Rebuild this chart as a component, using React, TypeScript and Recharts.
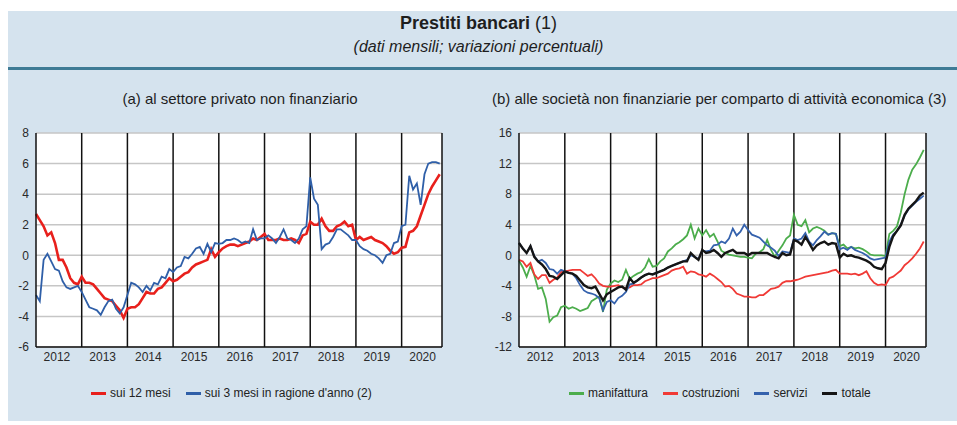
import React from 'react';
import { LineChart, Line, XAxis, YAxis, CartesianGrid, ReferenceLine } from 'recharts';

// Monthly data, Jan 2012 - Nov 2020 (one row per year in the source layout)
const YEARS = ['2012', '2013', '2014', '2015', '2016', '2017', '2018', '2019', '2020'];

// (a) loans to the non-financial private sector
const SUI_12_MESI = [
  2.7, 2.3, 1.9, 1.3, 1.5, 0.8, -0.3, -0.3, -0.8, -1.5, -1.8, -1.9,
  -1.4, -1.8, -1.8, -1.9, -2.2, -2.5, -2.8, -2.9, -3.0, -3.3, -3.6, -4.1,
  -3.5, -3.4, -3.4, -3.2, -2.8, -2.4, -2.5, -2.5, -2.2, -2.1, -1.8, -1.5,
  -1.7, -1.6, -1.4, -1.2, -1.1, -0.8, -0.6, -0.5, -0.4, -0.3, 0.4, -0.1,
  0.2, 0.45, 0.6, 0.7, 0.7, 0.6, 0.7, 0.8, 0.9, 1.1, 1.0, 1.2,
  1.4, 1.0, 1.0, 1.0, 1.1, 1.0, 1.0, 1.1, 1.0, 0.8, 1.3, 1.4,
  2.2, 2.0, 2.0, 2.4, 1.9, 1.6, 1.6, 1.9, 2.0, 2.2, 1.9, 2.0,
  1.0, 1.2, 1.0, 1.1, 1.2, 1.0, 0.9, 0.8, 0.6, 0.3, 0.1, 0.2,
  0.5, 0.55, 1.5, 1.6, 1.9, 2.6, 3.3, 4.0, 4.5, 4.9, 5.3,
];
const SUI_3_MESI = [
  -2.6, -3.0, -0.3, 0.1, -0.4, -0.9, -1.0, -1.7, -2.1, -2.2, -2.1, -2.0,
  -2.4, -2.9, -3.4, -3.5, -3.6, -3.9, -3.4, -3.0, -2.9, -3.5, -3.8, -3.4,
  -2.6, -1.8, -1.9, -2.1, -2.4, -2.0, -2.3, -1.8, -1.9, -1.4, -1.5, -0.9,
  -1.1, -0.8, -0.7, -0.1, -0.2, 0.1, 0.45, 0.55, 0.1, 0.75, 0.2, 0.8,
  0.75, 0.8, 1.0, 1.0, 1.1, 1.0, 0.8, 0.9, 0.8, 1.7, 1.0, 1.1,
  1.1, 1.3, 1.1, 0.8, 1.2, 1.7, 1.1, 1.0, 0.8, 1.1, 1.7, 1.9,
  5.1, 3.7, 3.3, 0.4, 0.7, 0.8, 1.2, 1.7, 1.7, 1.5, 1.3, 1.0,
  1.0, 0.6, 0.4, 0.3, 0.1, 0.0, -0.2, -0.5, 0.0, 0.1, 0.8, 0.9,
  1.9, 2.0, 5.2, 4.3, 4.7, 3.3, 5.3, 6.0, 6.1, 6.1, 6.0,
];

// (b) loans to non-financial firms by sector
const MANIFATTURA = [
  -0.7, -1.6, -2.8, -1.4, -2.6, -4.4, -4.2, -5.7, -8.7, -8.1, -7.9, -6.8,
  -6.6, -7.0, -6.8, -7.0, -7.3, -7.1, -6.9, -6.0, -5.7, -5.4, -7.4, -4.5,
  -3.7, -3.3, -3.5, -3.2, -1.9, -3.1, -2.7, -2.4, -2.2, -1.6, -0.5, -1.5,
  -1.4, -0.8, -0.4, 0.5, 0.9, 1.4, 1.7, 2.1, 2.6, 4.0, 2.2, 3.5,
  2.6, 3.3, 2.4, 2.8, 1.8, 0.6, 0.3, 0.1, 0.0, -0.1, -0.2, -0.2,
  -0.3, -0.4, 0.2, 0.4, 0.8, 2.0, 0.7, -0.2, 0.6, 1.3, 2.2, 2.6,
  5.3, 4.0, 3.8, 4.6, 3.0, 3.5, 3.7, 3.5, 3.2, 2.7, 2.9, 2.8,
  1.2, 1.4, 0.9, 1.1, 0.9, 1.0, 0.8, 0.5, 0.1, 0.0, 0.0, 0.0,
  -0.1, 2.8, 3.2, 3.8, 5.6, 8.0, 9.9, 11.2, 11.9, 12.8, 13.8,
];
const COSTRUZIONI = [
  -0.6, -0.8, -1.5, -1.0, -2.5, -3.1, -2.6, -2.6, -3.6, -3.2, -2.9, -2.2,
  -2.1, -2.0, -1.9, -1.9, -1.9, -2.3, -2.7, -2.5, -3.0, -3.7, -4.0, -4.1,
  -4.1, -4.0, -3.9, -4.2, -4.3, -4.2, -3.9, -3.9, -3.8, -3.4, -3.2, -3.0,
  -3.0, -2.8, -2.6, -2.4, -2.0, -1.8, -1.7, -1.5, -2.4, -2.1, -2.2, -2.5,
  -2.6, -2.8, -2.4, -2.7, -3.1, -3.5, -4.1, -4.0, -4.4, -5.0, -5.2, -5.4,
  -5.4, -5.5, -5.5, -5.2, -5.2, -4.8, -4.4, -4.3, -4.1, -3.6, -3.4, -3.4,
  -3.3, -3.2, -3.0, -2.8, -2.7, -2.6, -2.5, -2.4, -2.3, -2.2, -2.0, -1.9,
  -2.4, -2.4, -2.4, -2.5, -2.4, -2.6, -2.4, -2.1, -3.0, -3.6, -3.9, -3.8,
  -3.9, -3.0, -2.8, -2.4, -2.0, -1.3, -0.9, -0.4, 0.2, 0.9, 1.8,
];
const SERVIZI = [
  1.6, 0.9, 0.3, 1.2, -0.1, -0.8, -0.6, -1.0, -1.8, -1.9, -2.4, -1.9,
  -2.1, -2.3, -2.4, -3.0, -3.9, -4.6, -4.9, -5.0, -5.2, -5.6, -7.2, -6.1,
  -5.9, -6.3, -5.6, -5.3, -4.8, -3.8, -3.7, -3.3, -2.9, -2.6, -2.4, -2.5,
  -2.3, -2.1, -1.9, -1.6, -1.4, -1.2, -1.0, -0.8, -0.6, 0.0, -0.2, -0.5,
  0.6, 0.5, 0.6, 1.3, 1.4, 1.8, 1.6, 2.2, 3.5, 2.6, 3.1, 4.0,
  3.3, 2.7, 2.5, 2.3, 1.8, 1.3, 1.0, 0.6, -0.1, 0.5, 0.4, 0.3,
  2.2, 2.0, 2.2, 2.9, 1.8, 1.3, 2.0, 2.5, 3.1, 2.7, 2.9, 2.8,
  0.8, 1.0, 0.7, 1.1, 0.7, 0.5, 0.3, 0.0, -0.4, -0.6, -0.5, -0.4,
  -0.3, 1.8, 2.7, 3.2, 4.0, 5.2, 6.0, 6.5, 7.0, 7.4, 7.8,
];
const TOTALE = [
  1.6, 0.9, 0.3, 1.2, -0.2, -0.8, -1.2, -1.8, -2.7, -2.8, -3.1, -2.6,
  -2.1, -2.3, -2.4, -2.7, -3.3, -3.9, -4.2, -4.3, -4.1, -5.0, -5.9, -5.1,
  -4.8, -4.5, -4.2, -4.1, -4.5, -3.0, -3.6, -3.3, -2.9, -2.6, -2.4, -2.5,
  -2.3, -2.1, -1.9, -1.6, -1.4, -1.2, -1.0, -0.8, -0.8, 0.3, -0.2, -0.6,
  0.7, 0.3, 0.4, 0.7, 0.3, -0.2, 0.3, 0.5, 0.7, 0.3, 0.3, 0.3,
  0.0, 0.3, 0.3, 0.3, 0.3, 0.3, 0.0, -0.2, -0.4, 0.3, 0.0, 0.1,
  2.0, 1.8, 1.4, 2.4, 1.6, 0.7, 1.3, 1.6, 1.8, 1.4, 1.6, 1.5,
  -0.3, 0.2, -0.1, 0.0, -0.2, -0.3, -0.5, -0.7, -1.0, -1.5, -1.7, -1.8,
  -1.0, 1.1, 2.5, 3.2, 3.9, 5.3, 6.1, 6.6, 7.1, 7.8, 8.2,
];

const TICKS_A = [-6, -4, -2, 0, 2, 4, 6, 8];
const TICKS_B = [-12, -8, -4, 0, 4, 8, 12, 16];

const FONT = "'Liberation Sans Narrow', 'Arial Narrow', 'Liberation Sans', Arial, sans-serif";
const X_DOMAIN: [number, number] = [0, 106.6];
const MONTH_TICKS = SUI_12_MESI.map((_, i) => i);
const QUARTER_TICKS = MONTH_TICKS.filter((m) => m % 3 === 0);
const YEAR_STARTS = YEARS.slice(1).map((_, k) => (k + 1) * 12);
const YEAR_MIDS = YEARS.map((_, k) => k * 12 + 5.5);

const dataA = SUI_12_MESI.map((v, i) => ({ t: i, a12: v, a3: SUI_3_MESI[i] }));
const dataB = MANIFATTURA.map((v, i) => ({
  t: i,
  man: v,
  cos: COSTRUZIONI[i],
  ser: SERVIZI[i],
  tot: TOTALE[i],
}));

interface Serie {
  key: string;
  name: string;
  color: string;
  width: number;
}

const SERIES_A: Serie[] = [
  { key: 'a12', name: 'sui 12 mesi', color: '#e8201c', width: 2.6 },
  { key: 'a3', name: "sui 3 mesi in ragione d'anno (2)", color: '#2f5fa8', width: 1.8 },
];
const SERIES_B: Serie[] = [
  { key: 'man', name: 'manifattura', color: '#4cad4c', width: 1.8 },
  { key: 'cos', name: 'costruzioni', color: '#f03a36', width: 1.8 },
  { key: 'ser', name: 'servizi', color: '#3562ad', width: 1.8 },
  { key: 'tot', name: 'totale', color: '#151515', width: 2.4 },
];

const tickStyle = { fontSize: 12, fill: '#2a2a2a', fontFamily: FONT };

interface PanelProps {
  left: number;
  width: number;
  data: any[];
  series: Serie[];
  yTicks: number[];
  leftW: number;
  rightW: number;
}

function Panel({ left, width, data, series, yTicks, leftW, rightW }: PanelProps) {
  const yDomain: [number, number] = [yTicks[0], yTicks[yTicks.length - 1]];
  return (
    <div style={{ position: 'absolute', left, top: 120, width, height: 250 }}>
      <LineChart width={width} height={250} data={data} margin={{ top: 13, right: 0, bottom: 3, left: 0 }}>
        <CartesianGrid yAxisId="l" vertical={false} stroke="#c6c6c6" strokeWidth={1.5} fill="#ffffff" fillOpacity={1} />
        <XAxis
          dataKey="t"
          type="number"
          domain={X_DOMAIN}
          ticks={YEAR_MIDS}
          interval={0}
          tickFormatter={(_v: number, i: number) => YEARS[i]}
          tickLine={false}
          axisLine={false}
          tickSize={0}
          tickMargin={5}
          height={20}
          tick={tickStyle}
        />
        <XAxis
          xAxisId="m"
          dataKey="t"
          type="number"
          domain={X_DOMAIN}
          ticks={MONTH_TICKS}
          interval={0}
          mirror
          tick={false}
          tickSize={3}
          stroke="#111"
          axisLine={{ stroke: '#111', strokeWidth: 1.5 }}
        />
        <XAxis
          xAxisId="q"
          dataKey="t"
          type="number"
          domain={X_DOMAIN}
          ticks={QUARTER_TICKS}
          interval={0}
          mirror
          tick={false}
          tickSize={5}
          stroke="#111"
          axisLine={false}
        />
        <YAxis
          yAxisId="l"
          orientation="left"
          type="number"
          domain={yDomain}
          ticks={yTicks}
          interval={0}
          width={leftW}
          tickLine={false}
          tickSize={0}
          tickMargin={7}
          axisLine={{ stroke: '#111', strokeWidth: 1.5 }}
          tick={tickStyle}
        />
        <YAxis
          yAxisId="r"
          orientation="right"
          type="number"
          domain={yDomain}
          ticks={yTicks}
          interval={0}
          width={rightW}
          tickLine={false}
          tickSize={0}
          tickMargin={9}
          axisLine={{ stroke: '#111', strokeWidth: 1.5 }}
          tick={tickStyle}
        />
        {YEAR_STARTS.map((x) => (
          <ReferenceLine key={x} x={x} yAxisId="l" stroke="#111" strokeWidth={1.5} />
        ))}
        {series.map((s) => (
          <Line
            key={s.key}
            yAxisId="l"
            dataKey={s.key}
            name={s.name}
            type="linear"
            stroke={s.color}
            strokeWidth={s.width}
            dot={false}
            activeDot={false}
            isAnimationActive={false}
          />
        ))}
      </LineChart>
    </div>
  );
}

function LegendRow({ series, left }: { series: Serie[]; left: number }) {
  return (
    <div
      style={{
        position: 'absolute',
        left,
        top: 386,
        display: 'flex',
        alignItems: 'center',
        fontFamily: FONT,
        fontSize: 12,
        color: '#222',
        whiteSpace: 'nowrap',
      }}
    >
      {series.map((s) => (
        <span key={s.key} style={{ display: 'flex', alignItems: 'center', marginRight: 15 }}>
          <span style={{ display: 'inline-block', width: 15, height: 3, background: s.color, marginRight: 4 }} />
          {s.name}
        </span>
      ))}
    </div>
  );
}

export default function App() {
  return (
    <div
      style={{
        position: 'absolute',
        left: 0,
        top: 0,
        width: 957,
        height: 425,
        background: '#ffffff',
        overflow: 'hidden',
        fontFamily: FONT,
      }}
    >
      <div style={{ position: 'absolute', left: 8, top: 11, width: 949, height: 410, background: '#d5e3ee' }} />
      <div style={{ position: 'absolute', left: 0, top: 13, width: 957, textAlign: 'center', fontSize: 18, color: '#1e1e1e' }}>
        <b>Prestiti bancari</b> (1)
      </div>
      <div
        style={{ position: 'absolute', left: 0, top: 38, width: 957, textAlign: 'center', fontSize: 16, fontStyle: 'italic', color: '#1e1e1e' }}
      >
        (dati mensili; variazioni percentuali)
      </div>
      <div style={{ position: 'absolute', left: 8, top: 67, width: 949, height: 3, background: '#3e7b95' }} />
      <div style={{ position: 'absolute', left: 0, top: 90, width: 480, textAlign: 'center', fontSize: 15, color: '#1e1e1e' }}>
        (a) al settore privato non finanziario
      </div>
      <div style={{ position: 'absolute', left: 492, top: 90, fontSize: 15, color: '#1e1e1e', whiteSpace: 'nowrap' }}>
        (b) alle società non finanziarie per comparto di attività economica (3)
      </div>
      <Panel left={0} width={480} data={dataA} series={SERIES_A} yTicks={TICKS_A} leftW={36} rightW={38} />
      <Panel left={480} width={477} data={dataB} series={SERIES_B} yTicks={TICKS_B} leftW={39} rightW={31} />
      <LegendRow series={SERIES_A} left={91} />
      <LegendRow series={SERIES_B} left={569} />
    </div>
  );
}
